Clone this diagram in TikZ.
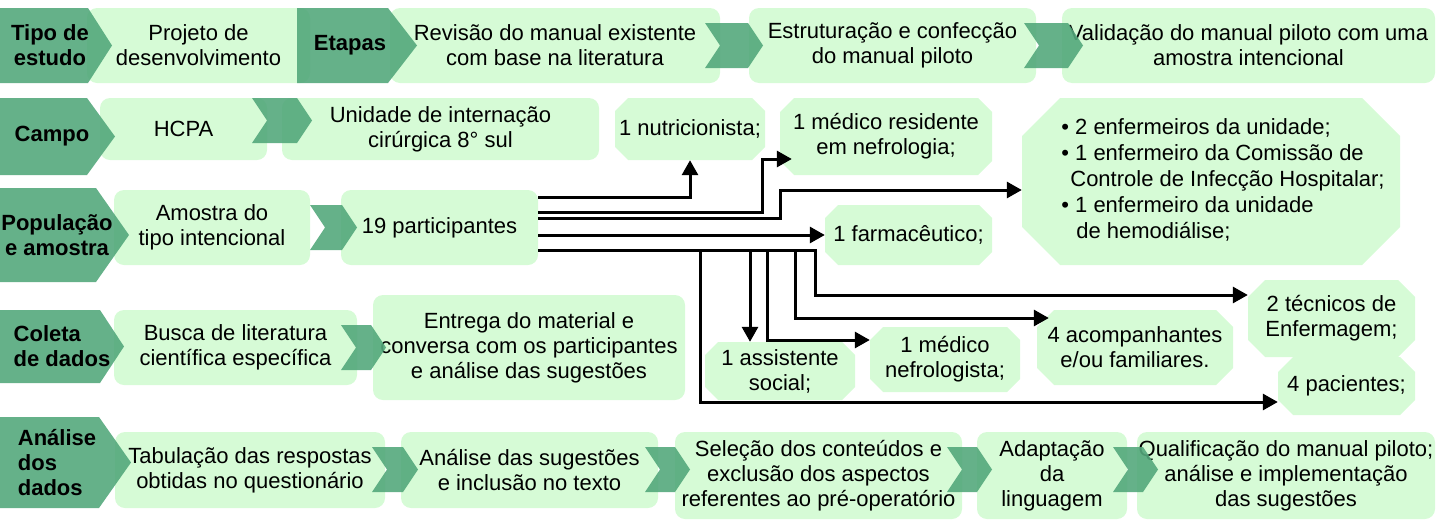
\documentclass[tikz,border=0pt]{standalone}
\usepackage{fontspec}
\setmainfont{Liberation Sans}
\usetikzlibrary{calc,arrows.meta}
\definecolor{darkg}{RGB}{84,168,124}
\definecolor{lightg}{RGB}{214,251,214}
\tikzset{
  box/.style={fill=lightg, rounded corners=10pt, inner sep=0pt, align=center},
  octbox/.style={inner sep=0pt, align=center, path picture={
    \fill[lightg] ([xshift=#1]path picture bounding box.north west)
      -- ([xshift=-#1]path picture bounding box.north east)
      -- ([yshift=-#1]path picture bounding box.north east)
      -- ([yshift=#1]path picture bounding box.south east)
      -- ([xshift=-#1]path picture bounding box.south east)
      -- ([xshift=#1]path picture bounding box.south west)
      -- ([yshift=#1]path picture bounding box.south west)
      -- ([yshift=-#1]path picture bounding box.north west) -- cycle;}},
  chev/.style={fill=darkg, fill opacity=0.9},
  headtxt/.style={font=\fontsize{22}{25}\selectfont\bfseries, align=center},
  arr/.style={-{Triangle[length=15pt,width=16pt]}, line width=3pt},
}
\begin{document}
\begin{tikzpicture}[x=1pt, y=-1pt, font=\fontsize{22}{25}\selectfont]
    \useasboundingbox (0,0) rectangle (1437,520);

    \node[box, minimum width=223pt, minimum height=75pt] (projeto) at (198.5,45.5) {Projeto de\\desenvolvimento};
    \node[box, minimum width=330pt, minimum height=75pt] (revisao) at (555,45.5) {Revisão do manual existente\\com base na literatura};
    \node[box, minimum width=287pt, minimum height=75pt] (estrut) at (892.5,45.5) {Estruturação e confecção\\do manual piloto};
    \node[box, minimum width=373pt, minimum height=75pt] (valid) at (1248.5,45.5) {Validação do manual piloto com uma\\amostra intencional};

    \node[box, minimum width=167pt, minimum height=62pt] (hcpa) at (183.5,129) {HCPA};
    \node[box, minimum width=317pt, minimum height=62pt] (unidade) at (440.5,129) {Unidade de internação\\cirúrgica 8° sul};

    \node[box, minimum width=196pt, minimum height=75pt] (amostra) at (212,227.5) {Amostra do\\tipo intencional};
    \node[box, minimum width=197pt, minimum height=75pt] (p19) at (439.5,227.5) {19 participantes};

    \node[box, minimum width=243pt, minimum height=75pt] (busca) at (235.5,347.5) {Busca de literatura\\científica específica};
    \node[box, minimum width=312pt, minimum height=105pt] (entrega) at (529,347.5) {Entrega do material e\\conversa com os participantes\\e análise das sugestões};

    \node[box, minimum width=270pt, minimum height=76pt] (tabul) at (250,470) {Tabulação das respostas\\obtidas no questionário};
    \node[box, minimum width=257pt, minimum height=76pt] (anasug) at (529.5,470) {Análise das sugestões\\e inclusão no texto};
    \node[box, minimum width=287pt, minimum height=87pt] (selec) at (818.5,475.5) {Seleção dos conteúdos e\\exclusão dos aspectos\\referentes ao pré-operatório};
    \node[box, minimum width=150pt, minimum height=87pt] (adapt) at (1052,475.5) {Adaptação\\da\\linguagem};
    \node[box, minimum width=298pt, minimum height=87pt] (qualif) at (1286,475.5) {Qualificação do manual piloto;\\análise e implementação\\das sugestões};

    \node[octbox=13pt, minimum width=150pt, minimum height=62pt] (nutri) at (690,129) {1 nutricionista;};
    \node[octbox=14pt, minimum width=212pt, minimum height=77pt] (medres) at (886,136.5) {1 médico residente\\em nefrologia;};
    \node[octbox=38pt, minimum width=378pt, minimum height=167pt, font=\fontsize{22}{26}\selectfont] (enf) at (1211,181.5)
      {\hspace*{24pt}\begin{tabular}{@{}l@{}}
        \textbullet\ 2 enfermeiros da unidade;\\
        \textbullet\ 1 enfermeiro da Comissão de\\
        \hspace*{9pt}Controle de Infecção Hospitalar;\\
        \textbullet\ 1 enfermeiro da unidade\\
        \hspace*{15pt}de hemodiálise;
      \end{tabular}};
    \node[octbox=13pt, minimum width=167pt, minimum height=60pt] (farm) at (908.5,235) {1 farmacêutico;};
    \node[octbox=13pt, minimum width=150pt, minimum height=58pt] (assist) at (780,371) {1 assistente\\social;};
    \node[octbox=13pt, minimum width=150pt, minimum height=65pt] (nefro) at (945,359.5) {1 médico\\nefrologista;};
    \node[octbox=17pt, minimum width=196pt, minimum height=75pt] (acomp) at (1135,347.5) {4 acompanhantes\\e/ou familiares.};
    \node[octbox=17pt, minimum width=167pt, minimum height=77pt] (tecn) at (1331.5,318.5) {2 técnicos de\\Enfermagem;};
    \node[octbox=15pt, minimum width=137pt, minimum height=58pt] (pac) at (1346.5,386) {4 pacientes;};

    \fill[chev] (0,8) -- (88,8) -- (112,45.5) -- (88,83) -- (0,83) -- cycle;
      \node[headtxt] (tipohd) at (50,45.5) {Tipo de\\estudo};
    \fill[chev] (297,8) -- (388,8) -- (417,45.5) -- (388,83) -- (297,83) -- cycle;
      \node[headtxt] (etapashd) at (350,45.5) {Etapas};
    \fill[chev] (0,98) -- (87,98) -- (115,136.5) -- (87,175) -- (0,175) -- cycle;
      \node[headtxt] (campohd) at (52,136.5) {Campo};
    \fill[chev] (0,188) -- (96,188) -- (129,235) -- (96,282) -- (0,282) -- cycle;
      \node[headtxt] (pophd) at (57,235) {População\\e amostra};
    \fill[chev] (0,310) -- (100,310) -- (124,346.5) -- (100,383) -- (0,383) -- cycle;
      \node[headtxt, align=left] (coletahd) at (62,346.5) {Coleta\\de dados};
    \fill[chev] (0,417) -- (99,417) -- (131,462.5) -- (99,508) -- (0,508) -- cycle;
      \node[headtxt, align=left] (analisehd) at (57,462.5) {Análise\\dos\\dados};

    \fill[chev] (705,23) -- ++(43,0) -- ++(15,22.5) -- ++(-15,22.5) -- ++(-43,0) -- ++(15,-22.5) -- cycle;
    \fill[chev] (1024,23) -- ++(44,0) -- ++(15,22.5) -- ++(-15,22.5) -- ++(-44,0) -- ++(15,-22.5) -- cycle;
    \fill[chev] (252,98) -- ++(45,0) -- ++(15,22.5) -- ++(-15,22.5) -- ++(-45,0) -- ++(15,-22.5) -- cycle;
    \fill[chev] (310,205) -- ++(32,0) -- ++(15,22.5) -- ++(-15,22.5) -- ++(-32,0) -- ++(15,-22.5) -- cycle;
    \fill[chev] (341,325) -- ++(30,0) -- ++(15,22.5) -- ++(-15,22.5) -- ++(-30,0) -- ++(15,-22.5) -- cycle;
    \fill[chev] (372,447) -- ++(31,0) -- ++(15,22.5) -- ++(-15,22.5) -- ++(-31,0) -- ++(15,-22.5) -- cycle;
    \fill[chev] (645,447) -- ++(30,0) -- ++(15,22.5) -- ++(-15,22.5) -- ++(-30,0) -- ++(15,-22.5) -- cycle;
    \fill[chev] (947,447) -- ++(30,0) -- ++(15,22.5) -- ++(-15,22.5) -- ++(-30,0) -- ++(15,-22.5) -- cycle;
    \fill[chev] (1113,447) -- ++(30,0) -- ++(15,22.5) -- ++(-15,22.5) -- ++(-30,0) -- ++(15,-22.5) -- cycle;

    \draw[arr] ($(p19.east)+(0,-30.5)$) -| (nutri.south);
    \draw[arr] ($(p19.east)+(0,-15.5)$) -| (762,159) -- ($(medres.west |- 0,159)+(12,0)$);
    \draw[arr] ($(p19.east)+(0,-9.5)$) -| (780,190) -- (enf.west |- 0,190);
    \draw[arr] ($(p19.east)+(0,7.5)$) -- (farm.west);
    \draw[arr] ($(p19.east)+(0,22.5)$) -| (815,295) -- (tecn.west |- 0,295);
    \draw[arr] ($(p19.east)+(0,22.5)$) -| (795,318) -- ($(acomp.west |- 0,318)+(12,0)$);
    \draw[arr] ($(p19.east)+(0,22.5)$) -| (767,340) -- (nefro.west |- 0,340);
    \draw[arr] ($(p19.east)+(0,22.5)$) -| (assist.north -| 750,0);
    \draw[arr] ($(p19.east)+(0,22.5)$) -| (700,402) -- (pac.west |- 0,402);
\end{tikzpicture}
\end{document}
